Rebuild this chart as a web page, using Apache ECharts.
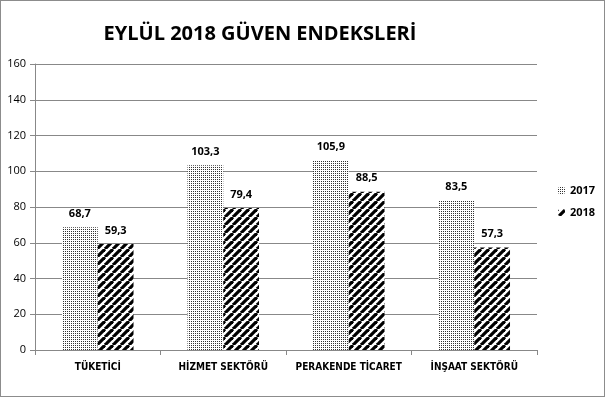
<!DOCTYPE html>
<html>
<head>
<meta charset="utf-8">
<script src="https://cdn.jsdelivr.net/npm/echarts@6/dist/echarts.min.js"></script>
<style>
  html, body { margin: 0; padding: 0; background: #fff; }
  #chart { width: 603px; height: 395px; border: 1px solid #8c8c8c; }
</style>
</head>
<body>
<div id="chart"></div>
<script>
var categories = ['TÜKETİCİ', 'HİZMET SEKTÖRÜ', 'PERAKENDE TİCARET', 'İNŞAAT SEKTÖRÜ']
var values2017 = [68.7, 103.3, 105.9, 83.5]
var values2018 = [59.3, 79.4, 88.5, 57.3]
var yTicks = [0, 20, 40, 60, 80, 100, 120, 140, 160]

// fine dot pattern for 2017
function dotPattern() {
  var c = document.createElement('canvas')
  c.width = 2
  c.height = 2
  var ctx = c.getContext('2d')
  ctx.fillStyle = '#fff'
  ctx.fillRect(0, 0, 2, 2)
  ctx.fillStyle = '#333'
  ctx.fillRect(0, 0, 1, 1)
  return c
}

// wide diagonal stripes for 2018
function stripePattern() {
  var s = 8
  var c = document.createElement('canvas')
  c.width = s
  c.height = s
  var ctx = c.getContext('2d')
  ctx.fillStyle = '#fff'
  ctx.fillRect(0, 0, s, s)
  ctx.strokeStyle = '#000'
  ctx.lineWidth = 3.2
  for (var k = -1; k <= 1; k++) {
    ctx.beginPath()
    ctx.moveTo(k * s, s)
    ctx.lineTo(k * s + s, 0)
    ctx.stroke()
  }
  return c
}

var chart = echarts.init(document.getElementById('chart'))
var labelFmt = function(p) { return String(p.value).replace('.', ',') }
var font = 'Open Sans'

chart.setOption({
  animation: false,
  title: {
    text: 'EYLÜL 2018 GÜVEN ENDEKSLERİ',
    left: 254,
    top: 18,
    textAlign: 'center',
    textStyle: { fontFamily: font, fontWeight: 'bold', fontSize: 20, color: '#000' }
  },
  legend: {
    orient: 'vertical',
    left: 552,
    top: 179,
    itemWidth: 7,
    itemHeight: 7,
    itemGap: 11,
    textStyle: { fontFamily: font, fontWeight: 'bold', fontSize: 11, color: '#000' },
    data: ['2017', '2018']
  },
  grid: { left: 34, right: 67, top: 63, bottom: 46 },
  xAxis: {
    type: 'category',
    data: categories,
    axisLine: { lineStyle: { color: '#888' } },
    axisTick: { show: true, length: 5, lineStyle: { color: '#888' } },
    axisLabel: { interval: 0, hideOverlap: false, margin: 12, fontFamily: 'DejaVu Sans Condensed', fontWeight: 'bold', fontSize: 10, color: '#000' }
  },
  yAxis: {
    type: 'value',
    min: yTicks[0],
    max: yTicks[yTicks.length - 1],
    interval: 20,
    axisLine: { show: true, lineStyle: { color: '#888' } },
    axisTick: { show: true, length: 5, lineStyle: { color: '#888' } },
    splitLine: { lineStyle: { color: '#888' } },
    axisLabel: { margin: 9, fontFamily: font, fontSize: 11, color: '#000' }
  },
  series: [{
    name: '2017',
    type: 'bar',
    data: values2017,
    barGap: '0%',
    barCategoryGap: '43%',
    itemStyle: { color: { image: dotPattern(), repeat: 'repeat' } },
    label: { show: true, position: 'top', distance: 8, formatter: labelFmt, fontFamily: font, fontWeight: 'bold', fontSize: 11, color: '#000' }
  },
  {
    name: '2018',
    type: 'bar',
    data: values2018,
    itemStyle: { color: { image: stripePattern(), repeat: 'repeat' } },
    label: { show: true, position: 'top', distance: 8, formatter: labelFmt, fontFamily: font, fontWeight: 'bold', fontSize: 11, color: '#000' }
  }]
})
</script>
</body>
</html>
